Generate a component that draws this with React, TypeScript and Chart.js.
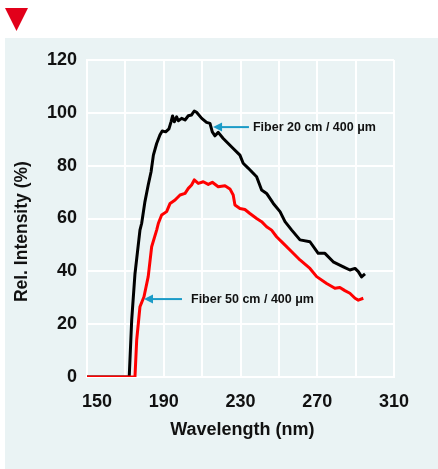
import React, { useEffect, useRef } from "react";
import { Chart, registerables } from "chart.js";

Chart.register(...registerables);

// Wavelength (nm) and relative intensity (%) for the 20 cm fiber (black)
const black20Wavelength = [150, 172, 173.3, 175, 177.6, 178.5, 180.2, 181.9, 183.4, 184.6, 186.3, 188.0, 189.2, 191, 192.7, 193.8, 194.6, 195.5, 196.7, 197.6, 199.3, 201.1, 202.8, 204.5, 205.9, 207.1, 209.8, 212.3, 214.1, 215.3, 216.7, 218.4, 221, 223.6, 226.2, 229.7, 231.4, 234.1, 238.4, 241, 243.6, 247.1, 250.6, 253.2, 256.7, 261, 266.2, 270.5, 274, 278.3, 283.6, 287, 289.7, 291.4, 293.1, 294.9];
const black20Intensity = [0, 0, 21.6, 39, 55.6, 58.2, 66.4, 72.7, 77.7, 84, 88.4, 91.6, 93.1, 92.8, 93.9, 96.6, 98.8, 96.6, 98.5, 97, 97.9, 97.3, 98.9, 99.2, 100.7, 100.2, 97.9, 96.4, 96, 92.8, 91.3, 92.6, 90.3, 88.4, 86.5, 84, 80.9, 79, 75.8, 70.8, 69.5, 65.7, 62.6, 58.8, 55.6, 51.9, 51.2, 46.8, 46.8, 43.6, 41.7, 40.5, 41.1, 39.9, 37.9, 39];

// Wavelength (nm) and relative intensity (%) for the 50 cm fiber (red)
const red50Wavelength = [150, 175, 175.9, 177.6, 179.7, 181.9, 183.7, 186.3, 187.2, 188.9, 191.5, 193.3, 195.9, 198.5, 201.1, 202.8, 204.5, 205.9, 208, 210.6, 213.2, 215.3, 218.4, 221.9, 224.5, 226.2, 227.1, 229.7, 232.3, 234.9, 238.4, 241, 243.6, 246.2, 248.8, 252.3, 256.7, 261, 266.2, 269.7, 274.9, 279.2, 281.8, 284.4, 287, 289.7, 291.4, 294];
const red50Intensity = [0, 0, 14, 26.6, 30.4, 38, 49.3, 55.6, 58.2, 61.3, 62.6, 65.7, 67, 68.9, 69.5, 71.4, 72.7, 74.6, 73.3, 73.9, 72.9, 73.7, 72, 72.4, 71.2, 68.9, 65.1, 63.8, 63.4, 61.9, 60, 58.8, 56.9, 55.6, 53.1, 50.6, 47.4, 44.3, 41.1, 38, 35.4, 33.6, 33.9, 32.7, 31.7, 29.8, 29.1, 29.8];

const xTickLabels = [150, 190, 230, 270, 310];
const annotationLabels = ["Fiber 20 cm / 400 \u03bcm", "Fiber 50 cm / 400 \u03bcm"];
// arrow head point (wavelength, intensity), arrow tail wavelength, text start wavelength
const annotationHeadX = [215.7, 179.7];
const annotationHeadY = [94.6, 29.5];
const annotationTailX = [234.4, 199.5];
const annotationTextX = [236.5, 204.2];

const FONT = "'Liberation Sans', Arial, Helvetica, sans-serif";
const PANEL = "#EAF3F4";
const ARROW = "#1B9BC7";

const toPoints = (xs: number[], ys: number[]) => xs.map((x, i) => ({ x, y: ys[i] }));

const backgroundPlugin = {
  id: "bgPanel",
  beforeDraw(chart: any) {
    const { ctx, width, height } = chart;
    ctx.save();
    ctx.fillStyle = "#ffffff";
    ctx.fillRect(0, 0, width, height);
    ctx.fillStyle = PANEL;
    ctx.fillRect(5, 38, width - 5, height - 38);
    ctx.fillStyle = "#E2001A";
    ctx.beginPath();
    ctx.moveTo(5, 8);
    ctx.lineTo(28, 8);
    ctx.lineTo(16.5, 31);
    ctx.closePath();
    ctx.fill();
    ctx.restore();
  },
};

const annotationPlugin = {
  id: "arrows",
  afterDatasetsDraw(chart: any) {
    const { ctx } = chart;
    const xs = chart.scales.x;
    const ys = chart.scales.y;
    ctx.save();
    annotationLabels.forEach((label, i) => {
      const hx = xs.getPixelForValue(annotationHeadX[i]);
      const hy = ys.getPixelForValue(annotationHeadY[i]);
      const tx = xs.getPixelForValue(annotationTailX[i]);
      const textX = xs.getPixelForValue(annotationTextX[i]);
      ctx.strokeStyle = ARROW;
      ctx.fillStyle = ARROW;
      ctx.lineWidth = 2;
      ctx.beginPath();
      ctx.moveTo(tx, hy);
      ctx.lineTo(hx + 7, hy);
      ctx.stroke();
      ctx.beginPath();
      ctx.moveTo(hx, hy);
      ctx.lineTo(hx + 9, hy - 4.5);
      ctx.lineTo(hx + 9, hy + 4.5);
      ctx.closePath();
      ctx.fill();
      ctx.fillStyle = "#111111";
      ctx.font = `bold 12.5px ${FONT}`;
      ctx.textAlign = "left";
      ctx.textBaseline = "middle";
      ctx.fillText(label, textX, hy + 0.5);
    });
    ctx.restore();
  },
};

export default function App() {
  const ref = useRef<HTMLCanvasElement | null>(null);

  useEffect(() => {
    if (!ref.current) return;
    const chart = new Chart(ref.current, {
      type: "line",
      data: {
        datasets: [
          {
            label: "Fiber 20 cm",
            data: toPoints(black20Wavelength, black20Intensity),
            borderColor: "#000000",
            borderWidth: 3,
            borderJoinStyle: "round",
            pointRadius: 0,
            tension: 0,
            order: 2,
          },
          {
            label: "Fiber 50 cm",
            data: toPoints(red50Wavelength, red50Intensity),
            borderColor: "#FF0000",
            borderWidth: 3,
            borderJoinStyle: "round",
            pointRadius: 0,
            tension: 0,
            order: 1,
          },
        ],
      },
      options: {
        animation: false,
        responsive: false,
        events: [],
        layout: { padding: { left: 0, top: 60, right: 44, bottom: 22 } },
        plugins: { legend: { display: false }, tooltip: { enabled: false } },
        scales: {
          x: {
            type: "linear",
            min: 150,
            max: 310,
            afterFit: (s: any) => {
              s.height = 70;
            },
            grid: { color: "#ffffff", lineWidth: 2, drawTicks: false },
            border: { display: true, color: "#ffffff", width: 2 },
            ticks: {
              stepSize: 20,
              autoSkip: false,
              maxRotation: 0,
              padding: 14,
              color: "#111111",
              font: { family: FONT, size: 18, weight: "bold" },
              callback: (v: any) => {
                const n = Number(v);
                if (!xTickLabels.includes(n)) return "";
                return n === 150 ? "\u2007\u2007" + n : String(n);
              },
            },
            title: {
              display: true,
              text: "\u2009Wavelength (nm)",
              color: "#111111",
              font: { family: FONT, size: 18, weight: "bold" },
              padding: { top: 0, bottom: 6 },
            },
          },
          y: {
            min: 0,
            max: 120,
            afterFit: (s: any) => {
              s.width = 87;
            },
            grid: { color: "#ffffff", lineWidth: 2, drawTicks: false },
            border: { display: true, color: "#ffffff", width: 2 },
            ticks: {
              stepSize: 20,
              padding: 10,
              color: "#111111",
              font: { family: FONT, size: 18, weight: "bold" },
            },
            title: {
              display: true,
              text: "Rel. Intensity (%)\u2003\u2002",
              color: "#111111",
              font: { family: FONT, size: 17.5, weight: "bold" },
              padding: { top: 12, bottom: 0 },
            },
          },
        },
      },
      plugins: [backgroundPlugin, annotationPlugin],
    });
    return () => chart.destroy();
  }, []);

  return (
    <div style={{ position: "fixed", left: 0, top: 0, width: 438, height: 469 }}>
      <canvas ref={ref} width={438} height={469} style={{ display: "block", width: 438, height: 469 }} />
    </div>
  );
}
